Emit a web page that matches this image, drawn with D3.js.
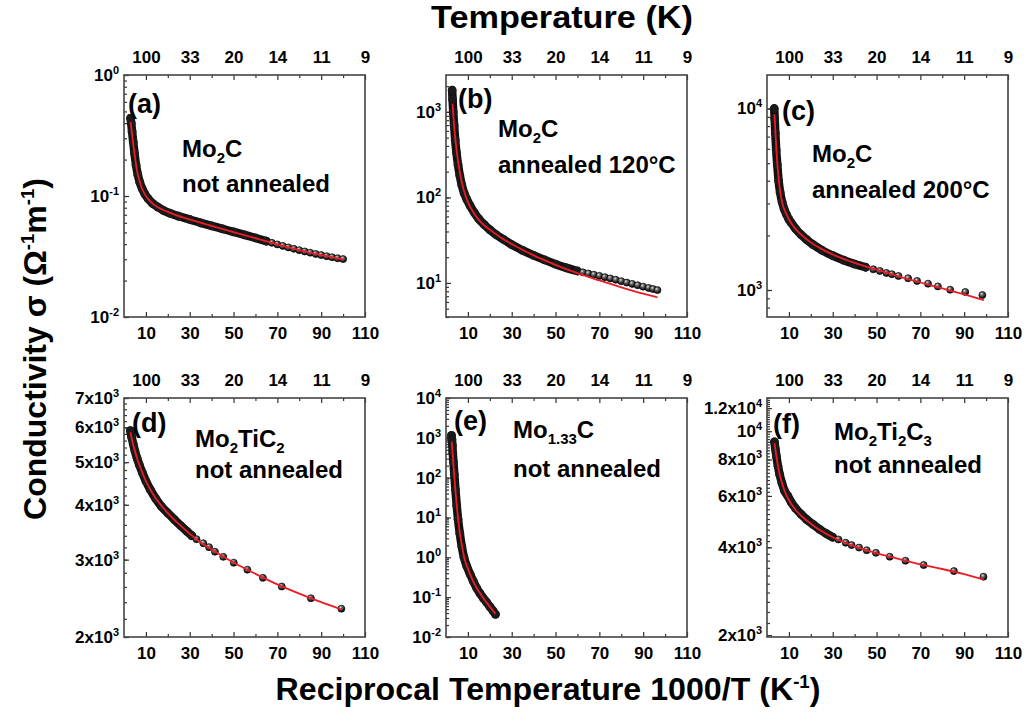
<!DOCTYPE html>
<html lang="en">
<head>
<meta charset="utf-8">
<title>Conductivity vs reciprocal temperature</title>
<script src="https://cdn.jsdelivr.net/npm/d3@7"></script>
<style>
  body { margin: 0; background: #fff; }
  svg text { font-family: "Liberation Sans", Arial, sans-serif; font-weight: bold; fill: #000; }
</style>
</head>
<body>
<svg id="chart" width="1026" height="721"></svg>
<script>
const xMajor = [10, 30, 50, 70, 90, 110];
const xMinor = [20, 40, 60, 80, 100];

// [1000/T, sigma]. "Band" = region where markers overlap into a solid trace
const aBand = [[3.0,0.44],[3.3,0.40],[3.7,0.34],[4.2,0.28],[4.8,0.225],[5.5,0.18],[6.3,0.15],[7.2,0.13],[8.3,0.115],[9.5,0.104],[11,0.095],[13,0.087],[15.5,0.081],[18,0.076],[21,0.072],[25,0.068],[30,0.064],[35,0.060],[40,0.0566],[45,0.0535],[50,0.0505],[55,0.0478],[60,0.045],[65,0.0423]];
const aPts = [[67.5,0.0410],[70,0.0398],[72.5,0.0387],[75,0.0376],[77.5,0.0366],[80,0.0357],[82.5,0.0348],[85,0.0340],[87.5,0.0332],[90,0.0325],[92.5,0.0318],[95,0.0312],[97.5,0.0306],[100,0.0301]];
const aFit = [[3.0,0.41],[4,0.29],[5,0.21],[6,0.16],[7,0.135],[8,0.118],[10,0.1],[13,0.087],[20,0.074],[30,0.064],[40,0.0566],[50,0.0502],[60,0.0448],[70,0.0398],[80,0.0357],[90,0.0325],[100,0.0300]];

const bBand = [[2.8,1800],[3.0,1400],[3.3,1000],[3.7,700],[4.2,470],[4.8,330],[5.5,240],[6.3,180],[7.2,140],[8.3,112],[9.5,95],[11,80],[13,66],[15,56],[17.5,48],[20,42],[23,36.5],[26.5,32],[30,28],[35,24],[40,21],[45,18.6],[50,16.6],[55,15],[60,13.8]];
const bPts = [[62.5,13.3],[65,12.9],[67.5,12.5],[70,12.1],[72.5,11.7],[75,11.3],[77.5,10.9],[80,10.5],[82.5,10.1],[85,9.75],[87.5,9.4],[90,9.05],[92.5,8.75],[94.5,8.5],[96.5,8.25]];
const bFit = [[3.0,1250],[3.5,800],[4,560],[5,330],[6,220],[7,160],[8,125],[10,88],[13,64],[16,51],[20,42],[25,34],[30,28.5],[40,21],[50,16.3],[60,13],[70,10.7],[80,8.9],[90,7.5],[96.5,6.8]];

const cBand = [[3.3,10000],[3.5,8800],[3.8,7300],[4.2,5900],[4.7,4900],[5.3,4000],[6.0,3450],[6.9,3050],[7.8,2800],[8.8,2620],[10,2450],[11,2350],[13,2180],[15.5,2020],[18,1900],[21,1780],[25,1660],[30,1545],[35,1460],[40,1390],[45,1335]];
const cPts = [[48.5,1300],[51.5,1274],[54.5,1242],[57,1222],[60,1195],[64.4,1161],[68.5,1122],[73.5,1084],[78,1047],[83.6,1004],[90.5,975],[98.3,938]];
const cFit = [[3.4,9300],[4,6800],[5,4500],[6,3500],[7,3000],[8.5,2680],[10,2450],[13,2170],[16,2000],[20,1830],[25,1680],[30,1570],[40,1410],[50,1295],[60,1190],[70,1100],[80,1020],[90,945],[99,880]];

const dBand = [[2.9,5900],[3.5,5700],[4.2,5500],[5,5300],[6,5100],[7,4930],[8.5,4720],[10,4530],[12,4330],[14.5,4130],[17,3970],[20,3830],[23,3700],[26,3580],[29,3470],[31,3400]];
const dPts = [[33.1,3340],[36.2,3270],[38.8,3203],[41.5,3128],[45.3,3044],[50.1,2953],[56.3,2846],[63.4,2727],[72,2606],[85.3,2450],[99.2,2320]];
const dFit = [[2.9,5850],[4,5520],[6,5100],[8,4780],[10,4530],[14,4170],[20,3830],[26,3580],[33,3340],[40,3165],[50,2955],[60,2785],[70,2635],[80,2510],[90,2400],[99.2,2310]];

const eBand = [[2.5,1150],[2.7,900],[2.9,650],[3.1,420],[3.4,250],[3.8,120],[4.3,50],[4.9,20],[5.5,9],[6.3,4],[7.2,1.9],[8.2,1.0],[9.5,0.6],[11,0.38],[12.5,0.25],[14,0.17],[15.5,0.125],[17,0.095],[18.5,0.075],[20,0.058],[21.5,0.045],[22.6,0.037]];
const ePts = [];
const eFit = [[2.6,800],[2.9,500],[3.2,300],[3.6,150],[4.2,55],[5,18],[6,5.5],[7,2.4],[8.2,1.05],[10,0.52],[12,0.28],[14,0.17],[16,0.115],[18,0.08],[20,0.058],[22.6,0.038]];

const fBand = [[3.4,9200],[3.8,8700],[4.3,8200],[5,7600],[5.8,7100],[6.8,6650],[8,6250],[9.5,6000],[11,5720],[13,5450],[15.5,5200],[18,4990],[21,4790],[24,4610],[27,4460],[30,4330]];
const fPts = [[32.6,4255],[35.9,4146],[38.6,4070],[42,3990],[45.5,3910],[49.7,3829],[56,3713],[63.2,3597],[71.5,3476],[85.3,3315],[98.8,3170]];
const fFit = [[3.4,9100],[4,8500],[5,7600],[6,7000],[8,6250],[10,5800],[13,5380],[16,5100],[20,4820],[25,4540],[30,4330],[40,4030],[50,3820],[60,3650],[70,3495],[80,3370],[90,3235],[99,3100]];

// y tick labels: [value, base, exponent]
const aTicks = [[1,"10","0"],[0.1,"10","-1"],[0.01,"10","-2"]];
const bTicks = [[1000,"10","3"],[100,"10","2"],[10,"10","1"]];
const cTicks = [[10000,"10","4"],[1000,"10","3"]];
const dTicks = [[7000,"7x10","3"],[6000,"6x10","3"],[5000,"5x10","3"],[4000,"4x10","3"],[3000,"3x10","3"],[2000,"2x10","3"]];
const eTicks = [[10000,"10","4"],[1000,"10","3"],[100,"10","2"],[10,"10","1"],[1,"10","0"],[0.1,"10","-1"],[0.01,"10","-2"]];
const fTicks = [[12000,"1.2x10","4"],[10000,"10","4"],[8000,"8x10","3"],[6000,"6x10","3"],[4000,"4x10","3"],[2000,"2x10","3"]];

const colX = [124, 446, 767];
const rowY = [75, 398];
const W = 241;
const H = [242, 239];

const panels = [
  {id: "a", col: 0, row: 0, dom: [0.01, 1], ticks: aTicks, band: aBand, pts: aPts, fit: aFit,
   formula: [["Mo"],["2",1],["C"]], note: "not annealed", lab: [4, 38], txt: [58, 82, 117]},
  {id: "b", col: 1, row: 0, dom: [4, 2700], ticks: bTicks, band: bBand, pts: bPts, fit: bFit,
   formula: [["Mo"],["2",1],["C"]], note: "annealed 120°C", lab: [12, 33], txt: [52, 62, 98]},
  {id: "c", col: 2, row: 0, dom: [710, 15300], ticks: cTicks, band: cBand, pts: cPts, fit: cFit,
   formula: [["Mo"],["2",1],["C"]], note: "annealed 200°C", lab: [15, 45], txt: [45, 87, 123]},
  {id: "d", col: 0, row: 1, dom: [2000, 7000], ticks: dTicks, band: dBand, pts: dPts, fit: dFit, minorStep: 200,
   formula: [["Mo"],["2",1],["TiC"],["2",1]], note: "not annealed", lab: [8, 34], txt: [71, 49, 80]},
  {id: "e", col: 1, row: 1, dom: [0.01, 10000], ticks: eTicks, band: eBand, pts: ePts, fit: eFit,
   formula: [["Mo"],["1.33",1],["C"]], note: "not annealed", lab: [8, 32], txt: [67, 40, 79]},
  {id: "f", col: 2, row: 1, dom: [1970, 13000], ticks: fTicks, band: fBand, pts: fPts, fit: fFit, minorStep: 200,
   formula: [["Mo"],["2",1],["Ti"],["2",1],["C"],["3",1]], note: "not annealed", lab: [6, 35], txt: [67, 42, 75]}
];

const svg = d3.select("#chart");
const grad = svg.append("defs").append("radialGradient")
  .attr("id", "ball").attr("cx", "38%").attr("cy", "32%").attr("r", "68%");
grad.append("stop").attr("offset", "0%").attr("stop-color", "#e4e4e4");
grad.append("stop").attr("offset", "35%").attr("stop-color", "#666");
grad.append("stop").attr("offset", "100%").attr("stop-color", "#000");

const x = d3.scaleLinear().domain([0, 110]).range([0, W]);

function styleAxis(g) {
  g.select(".domain").remove();
  g.attr("font-size", 17);
  g.selectAll(".tick line").attr("stroke", "#333").attr("stroke-width", 1.2);
}

function drawPanel(p) {
  const h = H[p.row];
  const g = svg.append("g").attr("transform", `translate(${colX[p.col]},${rowY[p.row]})`);
  const y = d3.scaleLog().domain(p.dom).range([h, 0]);

  g.append("g").attr("transform", `translate(0,${h})`)
    .call(d3.axisBottom(x).tickValues(xMajor).tickSize(-5).tickPadding(10)).call(styleAxis);
  g.append("g").attr("transform", `translate(0,${h})`)
    .call(d3.axisBottom(x).tickValues(xMinor).tickSize(-3).tickFormat("")).call(styleAxis);
  g.append("g")
    .call(d3.axisTop(x).tickValues(xMajor).tickSize(-5).tickPadding(12).tickFormat(d => Math.round(1000 / d)))
    .call(styleAxis);
  g.append("g")
    .call(d3.axisTop(x).tickValues(xMinor).tickSize(-3).tickFormat("")).call(styleAxis);

  const minor = p.minorStep
    ? d3.range(Math.ceil(p.dom[0] / p.minorStep) * p.minorStep, p.dom[1] + 1, p.minorStep)
    : y.ticks();
  g.append("g")
    .call(d3.axisLeft(y).tickValues(minor).tickSize(-3).tickFormat("")).call(styleAxis);

  const lab = new Map(p.ticks.map(t => [t[0], t]));
  g.append("g")
    .call(d3.axisLeft(y).tickValues(p.ticks.map(t => t[0])).tickSize(-5).tickPadding(5).tickFormat(""))
    .call(styleAxis)
    .selectAll(".tick text")
    .each(function(d) {
      const t = d3.select(this).text(null);
      t.append("tspan").text(lab.get(d)[1]);
      t.append("tspan").attr("dy", -7).attr("font-size", 11).text(lab.get(d)[2]);
    });

  g.append("rect").attr("width", W).attr("height", h)
    .attr("fill", "none").attr("stroke", "#444").attr("stroke-width", 1.6);

  const line = d3.line().x(d => x(d[0])).y(d => y(d[1])).curve(d3.curveMonotoneX);

  g.append("path").datum(p.band).attr("d", line)
    .attr("fill", "none").attr("stroke", "#111").attr("stroke-width", 8.5)
    .attr("stroke-linecap", "round").attr("stroke-linejoin", "round");
  g.append("g").selectAll("circle").data(p.band).join("circle")
    .attr("cx", d => x(d[0])).attr("cy", d => y(d[1])).attr("r", 4.4)
    .attr("fill", "#1a1a1a");
  g.append("g").selectAll("circle").data(p.pts).join("circle")
    .attr("cx", d => x(d[0])).attr("cy", d => y(d[1])).attr("r", 3.5)
    .attr("fill", "url(#ball)").attr("stroke", "#000").attr("stroke-width", 0.7);

  g.append("path").datum(p.fit).attr("d", line)
    .attr("fill", "none").attr("stroke", "#ec1c24").attr("stroke-width", 1.8);

  g.append("text").attr("x", p.lab[0]).attr("y", p.lab[1]).attr("font-size", 27).text(`(${p.id})`);

  const t1 = g.append("text").attr("x", p.txt[0]).attr("y", p.txt[1]).attr("font-size", 24);
  p.formula.forEach((s, i) => {
    const prevSub = i > 0 && p.formula[i - 1][1];
    const sp = t1.append("tspan").text(s[0]);
    if (s[1]) sp.attr("font-size", 15).attr("dy", prevSub ? 0 : 6);
    else if (prevSub) sp.attr("dy", -6);
  });
  g.append("text").attr("x", p.txt[0]).attr("y", p.txt[2]).attr("font-size", 24).text(p.note);
}

panels.forEach(drawPanel);

// axis titles, squeezed horizontally to the condensed look of the original
function squeeze(text, cx, cy, width, angle) {
  const w = text.node().getComputedTextLength();
  text.attr("text-anchor", "middle")
    .attr("transform", `translate(${cx},${cy}) rotate(${angle}) scale(${width / w},1)`);
}

const titleTop = svg.append("text").attr("font-size", 31).text("Temperature (K)");
squeeze(titleTop, 562, 28, 262, 0);

const titleBottom = svg.append("text").attr("font-size", 31);
titleBottom.append("tspan").text("Reciprocal Temperature 1000/T (K");
titleBottom.append("tspan").attr("font-size", 18).attr("dy", -12).text("-1");
titleBottom.append("tspan").attr("dy", 12).text(")");
squeeze(titleBottom, 548, 700, 545, 0);

const titleY = svg.append("text").attr("font-size", 31);
titleY.append("tspan").text("Conductivity σ (Ω");
titleY.append("tspan").attr("font-size", 18).attr("dy", -12).text("-1");
titleY.append("tspan").attr("dy", 12).text("m");
titleY.append("tspan").attr("font-size", 18).attr("dy", -12).text("-1");
titleY.append("tspan").attr("dy", 12).text(")");
squeeze(titleY, 46, 349, 342, -90);
</script>
</body>
</html>
